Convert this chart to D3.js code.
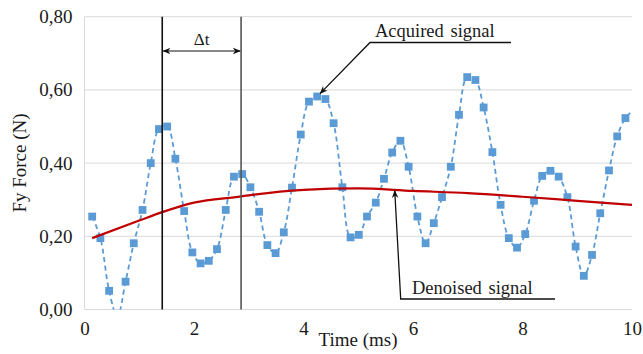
<!DOCTYPE html>
<html>
<head>
<meta charset="utf-8">
<script src="https://cdn.jsdelivr.net/npm/d3@7"></script>
<style>
  html, body { margin: 0; padding: 0; background: #fff; }
  svg { display: block; }
  svg text { font-family: "Liberation Serif", "Times New Roman", serif; fill: #1a1a1a; }
</style>
</head>
<body>
<svg id="chart" width="643" height="354"></svg>
<script>
// Sampled time stamps (ms)
const timeMs = [
  0.14, 0.29, 0.45, 0.60, 0.75, 0.90, 1.06, 1.21, 1.36, 1.51,
  1.66, 1.82, 1.97, 2.12, 2.27, 2.42, 2.58, 2.73, 2.88, 3.03,
  3.19, 3.34, 3.49, 3.64, 3.79, 3.95, 4.10, 4.25, 4.40, 4.55,
  4.71, 4.86, 5.01, 5.16, 5.32, 5.47, 5.62, 5.77, 5.92, 6.08,
  6.23, 6.38, 6.53, 6.69, 6.84, 6.99, 7.14, 7.29, 7.45, 7.60,
  7.75, 7.90, 8.05, 8.21, 8.36, 8.51, 8.66, 8.82, 8.97, 9.12,
  9.27, 9.42, 9.58, 9.73, 9.88, 10.03
];

// Acquired Fy force (N)
const acquiredForce = [
  0.254, 0.195, 0.051, -0.020, 0.076, 0.181, 0.272, 0.400, 0.493, 0.500,
  0.412, 0.269, 0.156, 0.126, 0.133, 0.165, 0.272, 0.363, 0.370, 0.334,
  0.267, 0.176, 0.154, 0.211, 0.333, 0.478, 0.568, 0.582, 0.575, 0.509,
  0.334, 0.197, 0.204, 0.254, 0.292, 0.357, 0.429, 0.461, 0.390, 0.254,
  0.181, 0.236, 0.307, 0.390, 0.532, 0.635, 0.627, 0.552, 0.430, 0.286,
  0.195, 0.169, 0.206, 0.297, 0.365, 0.379, 0.363, 0.307, 0.172, 0.092,
  0.149, 0.263, 0.380, 0.473, 0.523, 0.545
];

// Denoised Fy force (N)
const denoisedTime  = [0.14, 1.0, 1.42, 2.0, 2.86, 3.0, 4.0, 5.0, 6.0, 7.0, 8.0, 9.0, 10.0];
const denoisedForce = [0.195, 0.243, 0.266, 0.292, 0.309, 0.312, 0.327, 0.331, 0.324, 0.318, 0.308, 0.297, 0.286];

// Axis ticks
const xTicks = [0, 2, 4, 6, 8, 10];
const yTicks = [0, 0.2, 0.4, 0.6, 0.8];

// Marker times for the Δt window (ms)
const windowStart = 1.42;
const windowEnd = 2.86;

// Annotation anchors: [time, force]
const acquiredTarget = [4.27, 0.585];
const denoisedTarget = [5.67, 0.33];

const serif = '"Liberation Serif", "Times New Roman", serif';

const svg = d3.select("#chart");
const plot = { left: 84.5, right: 632, top: 16.7, bottom: 309.5 };

const x = d3.scaleLinear().domain([0, 10]).range([plot.left, plot.right]);
const y = d3.scaleLinear().domain([0, 0.8]).range([plot.bottom, plot.top]);

const defs = svg.append("defs");
defs.append("clipPath").attr("id", "plotClip")
  .append("rect")
  .attr("x", plot.left).attr("y", plot.top)
  .attr("width", plot.right - plot.left).attr("height", plot.bottom - plot.top);

defs.append("marker")
  .attr("id", "arrowHead")
  .attr("viewBox", "0 0 10 10")
  .attr("refX", 9).attr("refY", 5)
  .attr("markerWidth", 8).attr("markerHeight", 8)
  .attr("markerUnits", "userSpaceOnUse")
  .attr("orient", "auto-start-reverse")
  .append("path")
  .attr("d", "M0,1 L10,5 L0,9 L3,5 Z")
  .attr("fill", "#111");

// Horizontal gridlines
svg.append("g")
  .selectAll("line")
  .data(yTicks)
  .join("line")
  .attr("x1", plot.left).attr("x2", plot.right)
  .attr("y1", d => y(d)).attr("y2", d => y(d))
  .attr("stroke", "#d9d9d9").attr("stroke-width", 1);

// Left axis line
svg.append("line")
  .attr("x1", plot.left).attr("x2", plot.left)
  .attr("y1", plot.top).attr("y2", plot.bottom)
  .attr("stroke", "#d9d9d9").attr("stroke-width", 1);

// Y tick labels
const yAxis = d3.axisLeft(y).tickValues(yTicks).tickSize(0).tickPadding(12)
  .tickFormat(d => d3.format(".2f")(d).replace(".", ","));
const gy = svg.append("g").attr("transform", `translate(${plot.left},0)`).call(yAxis);
gy.select(".domain").remove();
gy.attr("font-family", null).attr("font-size", null);
gy.selectAll("text")
  .style("font-family", serif)
  .style("font-size", "19px").style("fill", "#1a1a1a");

// X tick labels
const xAxis = d3.axisBottom(x).tickValues(xTicks).tickSize(0).tickPadding(12)
  .tickFormat(d3.format("d"));
const gx = svg.append("g").attr("transform", `translate(0,${plot.bottom})`).call(xAxis);
gx.select(".domain").remove();
gx.attr("font-family", null).attr("font-size", null);
gx.selectAll("text")
  .style("font-family", serif)
  .style("font-size", "19px").style("fill", "#1a1a1a");

// Axis titles
svg.append("text")
  .attr("x", 358).attr("y", 346)
  .attr("text-anchor", "middle")
  .style("font-size", "19px")
  .text("Time (ms)");

svg.append("text")
  .attr("transform", "translate(26,163) rotate(-90)")
  .attr("text-anchor", "middle")
  .style("font-size", "19px")
  .text("Fy Force (N)");

// Data series
const plotArea = svg.append("g").attr("clip-path", "url(#plotClip)");

const acquired = timeMs.map((t, i) => [t, acquiredForce[i]]);
const denoised = denoisedTime.map((t, i) => [t, denoisedForce[i]]);

plotArea.append("path")
  .datum(acquired)
  .attr("fill", "none")
  .attr("stroke", "#5b9bd5")
  .attr("stroke-width", 1.8)
  .attr("stroke-dasharray", "5,3.5")
  .attr("d", d3.line().x(d => x(d[0])).y(d => y(d[1])).curve(d3.curveCatmullRom.alpha(0.5)));

plotArea.append("g")
  .selectAll("rect")
  .data(acquired.filter(d => d[1] >= 0 && d[0] <= 10))
  .join("rect")
  .attr("x", d => x(d[0]) - 3.9)
  .attr("y", d => y(d[1]) - 3.9)
  .attr("width", 7.8).attr("height", 7.8)
  .attr("fill", "#5b9bd5");

plotArea.append("path")
  .datum(denoised)
  .attr("fill", "none")
  .attr("stroke", "#c00000")
  .attr("stroke-width", 2.2)
  .attr("d", d3.line().x(d => x(d[0])).y(d => y(d[1])).curve(d3.curveMonotoneX));

// Δt window lines
svg.append("line")
  .attr("x1", x(windowStart)).attr("x2", x(windowStart))
  .attr("y1", plot.top).attr("y2", plot.bottom)
  .attr("stroke", "#111").attr("stroke-width", 1.6);
svg.append("line")
  .attr("x1", x(windowEnd)).attr("x2", x(windowEnd))
  .attr("y1", plot.top).attr("y2", plot.bottom)
  .attr("stroke", "#555").attr("stroke-width", 1.6);

svg.append("line")
  .attr("x1", x(windowStart) + 1).attr("x2", x(windowEnd) - 1)
  .attr("y1", 51).attr("y2", 51)
  .attr("stroke", "#111").attr("stroke-width", 1.2)
  .attr("marker-start", "url(#arrowHead)")
  .attr("marker-end", "url(#arrowHead)");
svg.append("text")
  .attr("x", (x(windowStart) + x(windowEnd)) / 2).attr("y", 45)
  .attr("text-anchor", "middle")
  .style("font-size", "17px")
  .text("Δt");

// "Acquired signal" callout
svg.append("polyline")
  .attr("points", `511,42.5 370,42.5 ${x(acquiredTarget[0]) + 2},${y(acquiredTarget[1]) - 2}`)
  .attr("fill", "none")
  .attr("stroke", "#111").attr("stroke-width", 1.3)
  .attr("marker-end", "url(#arrowHead)");
svg.append("text")
  .attr("x", 375).attr("y", 37)
  .style("font-size", "18.5px")
  .attr("word-spacing", 2)
  .text("Acquired signal");

// "Denoised signal" callout
svg.append("polyline")
  .attr("points", `555,299 400.7,299 ${x(denoisedTarget[0]) - 0.2},${y(denoisedTarget[1]) + 2}`)
  .attr("fill", "none")
  .attr("stroke", "#111").attr("stroke-width", 1.3)
  .attr("marker-end", "url(#arrowHead)");
svg.append("text")
  .attr("x", 412).attr("y", 294)
  .style("font-size", "18.5px")
  .attr("word-spacing", 2)
  .text("Denoised signal");
</script>
</body>
</html>
